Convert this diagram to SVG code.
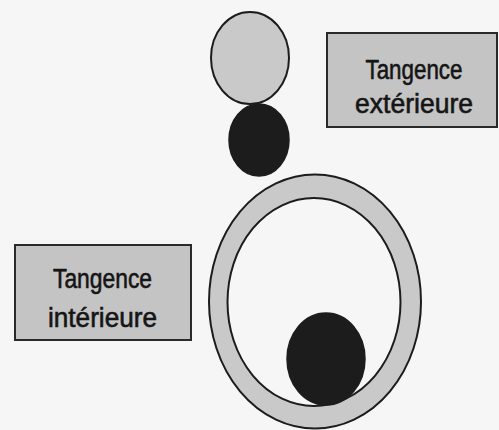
<svg xmlns="http://www.w3.org/2000/svg" width="499" height="430" viewBox="0 0 499 430">
  <style>
    .light { fill: #c9c9c9; stroke: #1c1c1c; stroke-width: 2; }
    .dark { fill: #1c1c1c; stroke: #1c1c1c; stroke-width: 1.5; }
    .hole { fill: #f6f6f6; stroke: #1c1c1c; stroke-width: 2; }
    .box { fill: #c4c4c4; stroke: #2a2a2a; stroke-width: 2; }
    .lbl { font-family: "Liberation Sans", Arial, sans-serif; font-size: 27px; fill: #151515; stroke: #151515; stroke-width: 0.6; text-anchor: middle; }
  </style>
  <rect x="0" y="0" width="499" height="430" fill="#f6f6f6"/>

  <g id="ext-big">
    <ellipse class="light" cx="250" cy="58" rx="39" ry="46"/>
  </g>
  <g id="ext-small">
    <ellipse class="dark" cx="259" cy="140" rx="30" ry="36"/>
  </g>

  <g id="box-ext">
    <rect class="box" x="327" y="33" width="170" height="94"/>
    <text class="lbl" x="414" y="79" textLength="97" lengthAdjust="spacingAndGlyphs">Tangence</text>
    <text class="lbl" x="414" y="113" textLength="118" lengthAdjust="spacingAndGlyphs">extérieure</text>
  </g>

  <g id="int-ring">
    <ellipse class="light" cx="315" cy="301.5" rx="106" ry="127"/>
    <ellipse class="hole" cx="314" cy="302" rx="86.5" ry="104"/>
  </g>
  <g id="int-small">
    <ellipse class="dark" cx="326" cy="359" rx="39" ry="46"/>
  </g>

  <g id="box-int">
    <rect class="box" x="15" y="245" width="176" height="95"/>
    <text class="lbl" x="102.5" y="288" textLength="99" lengthAdjust="spacingAndGlyphs">Tangence</text>
    <text class="lbl" x="102.5" y="327" textLength="109" lengthAdjust="spacingAndGlyphs">intérieure</text>
  </g>

  <g id="connectors"></g>
</svg>
